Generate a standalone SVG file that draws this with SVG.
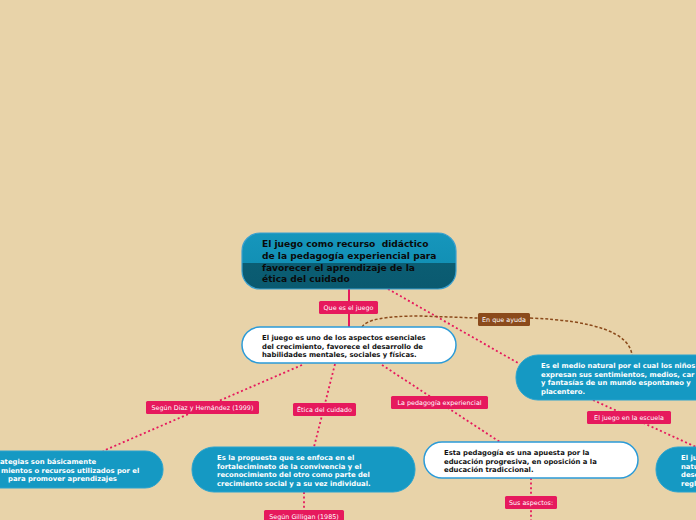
<svg xmlns="http://www.w3.org/2000/svg" width="696" height="520" viewBox="0 0 696 520">
<defs>
<linearGradient id="mainFill" x1="0" y1="0" x2="0" y2="1">
<stop offset="0" stop-color="#1696bc"/>
<stop offset="0.535" stop-color="#1290b5"/>
<stop offset="0.535" stop-color="#0b5d73"/>
<stop offset="1" stop-color="#0a5a70"/>
</linearGradient>
<style>
.bg{fill:#e8d3a9}
.blue{fill:#1599c3;stroke:#2aa3cf;stroke-width:1}
.white{fill:#ffffff;stroke:#2b9bd8;stroke-width:1.5}
.main{fill:url(#mainFill);stroke:#3aa0d0;stroke-width:1.2}
.lbl{fill:#e6195d}
.lblb{fill:#8b4a1b}
.lt{font-family:"DejaVu Sans",Verdana,sans-serif;font-size:6.4px;fill:#ffffff;text-anchor:middle}
.tw{font-family:"DejaVu Sans",Verdana,sans-serif;font-weight:bold;font-size:6.85px;fill:#ffffff}
.tb{font-family:"DejaVu Sans",Verdana,sans-serif;font-weight:bold;font-size:6.85px;fill:#111111}
.tm{font-family:"DejaVu Sans",Verdana,sans-serif;font-weight:bold;font-size:9.1px;fill:#0a0a0a}
.pk{fill:none;stroke:#e6195d;stroke-width:1.8;stroke-dasharray:2 2.6}
.br{fill:none;stroke:#8b4a1b;stroke-width:1.5;stroke-dasharray:3 2}
.solid{fill:none;stroke:#e6195d;stroke-width:2}
</style>
</defs>
<rect class="bg" x="0" y="0" width="696" height="520"/>

<g id="connectors">
<line class="solid" x1="349" y1="289" x2="349" y2="327"/>
<line class="pk" x1="388" y1="289" x2="518" y2="363"/>
<path class="br" d="M362,327 Q368,316 420,316 L478,318"/>
<path class="br" d="M530,318 Q628,322 632,355"/>
<line class="pk" x1="593" y1="400" x2="696" y2="447"/>
<line class="pk" x1="302" y1="365" x2="103" y2="451"/>
<line class="pk" x1="335" y1="364" x2="314" y2="447"/>
<line class="pk" x1="382" y1="365" x2="500" y2="442"/>
<line class="pk" x1="304" y1="492" x2="304" y2="510"/>
<line class="pk" x1="531" y1="478" x2="531" y2="520"/>
</g>

<g id="label-que-es">
<rect class="lbl" x="319" y="301" width="59" height="13" rx="1.5"/>
<text class="lt" x="348.5" y="310">Que es el juego</text>
</g>
<g id="label-en-que-ayuda">
<rect class="lblb" x="478" y="313" width="52" height="13" rx="1.5"/>
<text class="lt" x="504" y="322">En que ayuda</text>
</g>
<g id="label-segun-diaz">
<rect class="lbl" x="146" y="401" width="113" height="13" rx="1.5"/>
<text class="lt" x="202.5" y="410">Según Díaz y Hernández (1999)</text>
</g>
<g id="label-etica">
<rect class="lbl" x="293" y="403" width="63" height="13" rx="1.5"/>
<text class="lt" x="324.5" y="412">Ética del cuidado</text>
</g>
<g id="label-pedagogia">
<rect class="lbl" x="391" y="396" width="97" height="13" rx="1.5"/>
<text class="lt" x="439.5" y="405">La pedagogía experiencial</text>
</g>
<g id="label-escuela">
<rect class="lbl" x="587" y="411" width="84" height="13" rx="1.5"/>
<text class="lt" x="629" y="420">El juego en la escuela</text>
</g>
<g id="label-gilligan">
<rect class="lbl" x="264" y="510" width="80" height="13" rx="1.5"/>
<text class="lt" x="304" y="519">Según Gilligan (1985)</text>
</g>
<g id="label-aspectos">
<rect class="lbl" x="505" y="496" width="52" height="13" rx="1.5"/>
<text class="lt" x="531" y="505">Sus aspectos:</text>
</g>

<g id="node-main">
<rect class="main" x="242" y="233" width="214" height="56" rx="18"/>
<text class="tm" xml:space="preserve"><tspan x="262" y="247">El juego como recurso  didáctico</tspan><tspan x="262" y="259">de la pedagogía experiencial para</tspan><tspan x="262" y="270.5">favorecer el aprendizaje de la</tspan><tspan x="262" y="282">ética del cuidado</tspan></text>
</g>

<g id="node-juego">
<rect class="white" x="242" y="327" width="214" height="36" rx="18"/>
<text class="tb"><tspan x="262" y="340">El juego es uno de los aspectos esenciales</tspan><tspan x="262" y="348.5">del crecimiento, favorece el desarrollo de</tspan><tspan x="262" y="357">habilidades mentales, sociales y físicas.</tspan></text>
</g>

<g id="node-medio-natural">
<rect class="blue" x="516" y="355" width="230" height="45" rx="22"/>
<text class="tw"><tspan x="541" y="368">Es el medio natural por el cual los niños</tspan><tspan x="541" y="376.5">expresan sus sentimientos, medios, car</tspan><tspan x="541" y="385">y fantasías de un mundo espontaneo y</tspan><tspan x="541" y="393.5">placentero.</tspan></text>
</g>

<g id="node-estrategias">
<rect class="blue" x="-60" y="451" width="223" height="37" rx="18"/>
<text class="tw"><tspan x="0" y="464">ategias son básicamente</tspan><tspan x="1" y="472.5">mientos o recursos utilizados por el</tspan><tspan x="8" y="481">para promover aprendizajes</tspan></text>
</g>

<g id="node-propuesta">
<rect class="blue" x="192" y="447" width="223" height="45" rx="22"/>
<text class="tw"><tspan x="217" y="460">Es la propuesta que se enfoca en el</tspan><tspan x="217" y="468.5">fortalecimineto de la convivencia y el</tspan><tspan x="217" y="477">reconocimiento del otro como parte del</tspan><tspan x="217" y="485.5">crecimiento social y a su vez individual.</tspan></text>
</g>

<g id="node-pedagogia">
<rect class="white" x="424" y="442" width="214" height="36" rx="18"/>
<text class="tb"><tspan x="444" y="455">Esta pedagogía es una apuesta por la</tspan><tspan x="444" y="463.5">educación progresiva, en oposición a la</tspan><tspan x="444" y="472">educación tradiccional.</tspan></text>
</g>

<g id="node-juego-escuela">
<rect class="blue" x="656" y="447" width="100" height="45" rx="22"/>
<text class="tw"><tspan x="681" y="460">El ju</tspan><tspan x="681" y="468.5">natu</tspan><tspan x="681" y="477">desc</tspan><tspan x="681" y="485.5">regl</tspan></text>
</g>
</svg>
